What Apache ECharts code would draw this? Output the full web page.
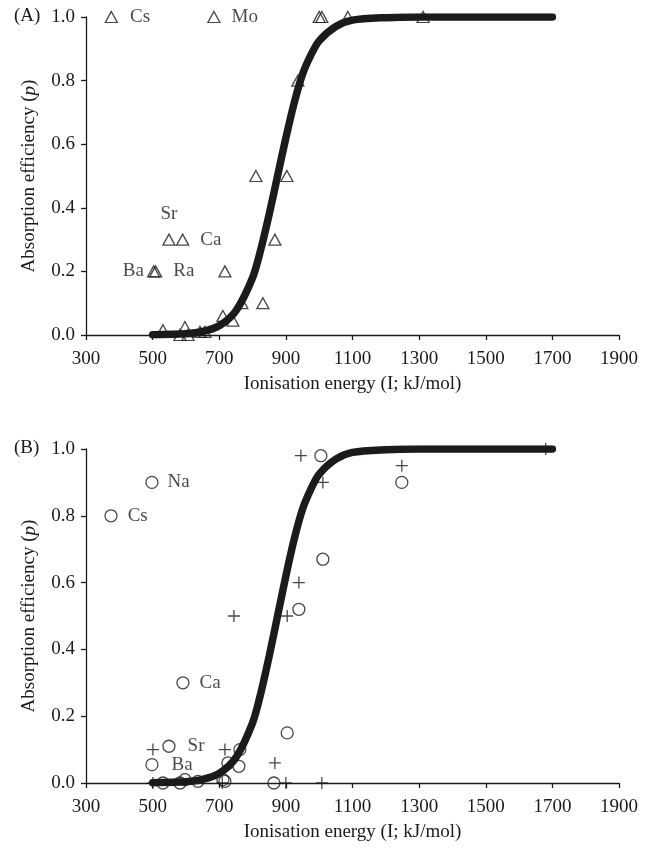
<!DOCTYPE html>
<html>
<head>
<meta charset="utf-8">
<script src="https://cdn.jsdelivr.net/npm/echarts@6/dist/echarts.min.js"></script>
<style>
  html, body { margin: 0; padding: 0; background: #fff; }
  #main { width: 652px; height: 853px; }
</style>
</head>
<body>
<div id="main"></div>
<script>
// fitted logistic curve (same in both panels)
var curveX = [500, 600, 650, 700, 750, 800, 825, 850, 875, 900, 925, 950, 975, 1000, 1050, 1100, 1200, 1300, 1700];
var curveP = [0.001, 0.004, 0.011, 0.029, 0.076, 0.18, 0.27, 0.38, 0.5, 0.62, 0.73, 0.82, 0.88, 0.925, 0.97, 0.99, 0.998, 1.0, 1.0];

// panel A, triangles
var triX = [376, 684, 1000, 1008, 1086, 1312, 936, 810, 903, 549, 590, 867, 503, 509, 717, 768, 831, 711, 741, 531, 597, 642, 657, 582, 606];
var triP = [1.0, 1.0, 1.0, 1.0, 1.0, 1.0, 0.8, 0.5, 0.5, 0.3, 0.3, 0.3, 0.2, 0.2, 0.2, 0.1, 0.1, 0.06, 0.045, 0.015, 0.025, 0.01, 0.01, 0, 0];
var triLabel = ['Cs', 'Mo', '', '', '', '', '', '', '', 'Sr', 'Ca', '', 'Ba', 'Ra', '', '', '', '', '', '', '', '', '', '', ''];

// panel B, circles
var circX = [498, 375, 1005, 1248, 1011, 939, 591, 904, 549, 762, 498, 726, 759, 864, 531, 582, 597, 636, 711, 717];
var circP = [0.90, 0.80, 0.98, 0.90, 0.67, 0.52, 0.30, 0.15, 0.11, 0.10, 0.055, 0.06, 0.05, 0, 0, 0, 0.01, 0.005, 0.01, 0.005];
var circLabel = ['Na', 'Cs', '', '', '', '', 'Ca', '', 'Sr', '', 'Ba', '', '', '', '', '', '', '', '', ''];

// panel B, crosses
var plusX = [945, 1011, 1248, 1680, 939, 744, 904, 501, 717, 867, 900, 1008, 501, 709];
var plusP = [0.98, 0.90, 0.95, 1.0, 0.60, 0.50, 0.50, 0.10, 0.10, 0.06, 0, 0, 0, 0];

var ink = '#1c1a1b';
var serif = '"Liberation Serif", "DejaVu Serif", serif';
var fs = 19;

// where each element label sits next to its mark: [position, distance]
var labelPosA = { Cs: ['right', 12], Mo: ['right', 11], Sr: ['top', 10], Ca: ['right', 11], Ba: ['left', 3], Ra: ['right', 11] };
var labelPosB = { Na: ['right', 9], Cs: ['right', 10], Ca: ['right', 10], Sr: ['right', 12], Ba: ['right', 13] };

function pts(xs, ys, labels, pos) {
    return xs.map(function (x, i) {
        var item = { value: [x, ys[i]] };
        var lb = labels && labels[i];
        if (lb) {
            item.label = {
                show: true, formatter: lb, position: pos[lb][0], distance: pos[lb][1],
                color: ink, fontFamily: serif, fontSize: fs
            };
        }
        return item;
    });
}

function xAxis(idx) {
    return {
        type: 'value', gridIndex: idx, min: 300, max: 1900, interval: 200,
        name: 'Ionisation energy (I; kJ/mol)', nameLocation: 'middle', nameGap: 40,
        nameTextStyle: { color: ink, fontFamily: serif, fontSize: fs },
        axisLine: { lineStyle: { color: ink, width: 1.3 } },
        axisTick: { show: true, inside: false, length: 5, lineStyle: { color: ink, width: 1.3 } },
        axisLabel: { color: ink, fontFamily: serif, fontSize: fs, margin: 15,
            formatter: function (v) { return String(v); } },
        splitLine: { show: false }
    };
}

function yAxis(idx) {
    return {
        type: 'value', gridIndex: idx, min: 0, max: 1, interval: 0.2,
        name: 'Absorption efficiency ({i|p})', nameLocation: 'middle', nameGap: 47,
        nameTextStyle: { color: ink, fontFamily: serif, fontSize: fs,
            rich: { i: { fontStyle: 'italic', fontFamily: serif, fontSize: fs, color: ink } } },
        axisLine: { show: true, lineStyle: { color: ink, width: 1.3 } },
        axisTick: { show: true, inside: false, length: 5, lineStyle: { color: ink, width: 1.3 } },
        axisLabel: { color: ink, fontFamily: serif, fontSize: fs, margin: 11,
            formatter: function (v) { return v.toFixed(1); } },
        splitLine: { show: false }
    };
}

function curve(idx) {
    return {
        type: 'line', xAxisIndex: idx, yAxisIndex: idx, smooth: 0.3, symbol: 'none',
        data: curveX.map(function (x, i) { return [x, curveP[i]]; }),
        lineStyle: { color: ink, width: 7.5, cap: 'round' }, z: 2, silent: true
    };
}

var hollow = { color: 'rgba(0,0,0,0)', borderColor: ink, borderWidth: 1.3 };

var chart = echarts.init(document.getElementById('main'), null, { renderer: 'canvas' });
chart.setOption({
    animation: false,
    backgroundColor: '#fff',
    grid: [
        { left: 86, top: 17, width: 533, height: 318 },
        { left: 86, top: 449, width: 533, height: 334 }
    ],
    xAxis: [xAxis(0), xAxis(1)],
    yAxis: [yAxis(0), yAxis(1)],
    graphic: [
        { type: 'text', left: 14, top: 7, style: { text: '(A)', fill: ink, font: fs + 'px ' + serif } },
        { type: 'text', left: 14, top: 439, style: { text: '(B)', fill: ink, font: fs + 'px ' + serif } }
    ],
    series: [
        curve(0),
        {
            type: 'scatter', xAxisIndex: 0, yAxisIndex: 0, symbol: 'triangle', symbolSize: [12, 11],
            itemStyle: hollow, data: pts(triX, triP, triLabel, labelPosA), z: 3
        },
        curve(1),
        {
            type: 'scatter', xAxisIndex: 1, yAxisIndex: 1, symbol: 'circle', symbolSize: 12,
            itemStyle: hollow, data: pts(circX, circP, circLabel, labelPosB), z: 3
        },
        {
            type: 'scatter', xAxisIndex: 1, yAxisIndex: 1, symbol: 'path://M0,5L10,5M5,0L5,10', symbolSize: 12,
            itemStyle: { color: 'rgba(0,0,0,0)', borderColor: ink, borderWidth: 1.3 },
            data: pts(plusX, plusP), z: 3
        }
    ]
});
</script>
</body>
</html>
